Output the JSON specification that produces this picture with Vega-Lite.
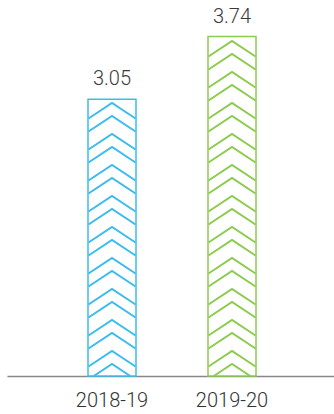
{
  "$schema": "https://vega.github.io/schema/vega-lite/v6.json",
  "autosize": "none",
  "width": 330,
  "height": 363,
  "padding": {"left": 7, "top": 13, "right": 0, "bottom": 38},
  "background": "white",
  "config": {"view": {"stroke": null}},
  "data": {"values": [
    {"year": "2018-19", "value": 3.05},
    {"year": "2019-20", "value": 3.74}
  ]},
  "encoding": {
    "x": {
      "field": "year", "type": "nominal", "sort": null,
      "scale": {"paddingInner": 0.6, "paddingOuter": 0.675},
      "axis": {"title": null, "ticks": false, "labelAngle": 0, "labelFontSize": 20, "labelFont": "Roboto", "labelFontWeight": 300, "labelColor": "#333333", "labelPadding": 14, "domainColor": "#888888", "domainWidth": 1.5}
    }
  },
  "layer": [
    {
      "mark": {"type": "bar", "fill": "white", "strokeWidth": 1.5},
      "encoding": {
        "y": {"field": "value", "type": "quantitative", "scale": {"domain": [0, 4]}, "axis": null},
        "stroke": {"field": "year", "type": "nominal", "scale": {"range": ["#3cbcee", "#8ccb4e"]}, "legend": null}
      }
    },
    {
      "mark": {"type": "point", "filled": false, "size": 4, "strokeWidth": 2, "opacity": 1},
      "encoding": {
        "y": {"datum": 0, "type": "quantitative"},
        "stroke": {"field": "year", "type": "nominal", "scale": {"range": ["#12a7e2", "#7fc241"]}, "legend": null},
        "shape": {"field": "year", "type": "nominal", "legend": null, "scale": {"range": [
          "M-18.2,0L0,-12L18.2,0M-23.5,-9.5L0,-25L23.5,-9.5M-23.5,-27.5L0,-43L23.5,-27.5M-23.5,-40.5L0,-56L23.5,-40.5M-23.5,-58.5L0,-74L23.5,-58.5M-23.5,-71.5L0,-87L23.5,-71.5M-23.5,-89.5L0,-105L23.5,-89.5M-23.5,-102.5L0,-118L23.5,-102.5M-23.5,-120.5L0,-136L23.5,-120.5M-23.5,-133.5L0,-149L23.5,-133.5M-23.5,-151.5L0,-167L23.5,-151.5M-23.5,-164.5L0,-180L23.5,-164.5M-23.5,-182.5L0,-198L23.5,-182.5M-23.5,-195.5L0,-211L23.5,-195.5M-23.5,-213.5L0,-229L23.5,-213.5M-23.5,-226.5L0,-242L23.5,-226.5M-23.5,-244.5L0,-260L23.5,-244.5M-23.5,-257.5L0,-273L23.5,-257.5",
          "M-18.2,0L0,-12L18.2,0M-23.5,-9.5L0,-25L23.5,-9.5M-23.5,-27.5L0,-43L23.5,-27.5M-23.5,-40.5L0,-56L23.5,-40.5M-23.5,-58.5L0,-74L23.5,-58.5M-23.5,-71.5L0,-87L23.5,-71.5M-23.5,-89.5L0,-105L23.5,-89.5M-23.5,-102.5L0,-118L23.5,-102.5M-23.5,-120.5L0,-136L23.5,-120.5M-23.5,-133.5L0,-149L23.5,-133.5M-23.5,-151.5L0,-167L23.5,-151.5M-23.5,-164.5L0,-180L23.5,-164.5M-23.5,-182.5L0,-198L23.5,-182.5M-23.5,-195.5L0,-211L23.5,-195.5M-23.5,-213.5L0,-229L23.5,-213.5M-23.5,-226.5L0,-242L23.5,-226.5M-23.5,-244.5L0,-260L23.5,-244.5M-23.5,-257.5L0,-273L23.5,-257.5M-23.5,-275.5L0,-291L23.5,-275.5M-23.5,-288.5L0,-304L23.5,-288.5M-23.5,-306.5L0,-322L23.5,-306.5M-23.5,-319.5L0,-335L23.5,-319.5"
        ]}}
      }
    },
    {
      "mark": {"type": "text", "dy": -20, "fontSize": 20, "font": "Roboto", "fontWeight": 300, "color": "#3a3a3a"},
      "encoding": {
        "y": {"field": "value", "type": "quantitative"},
        "text": {"field": "value", "type": "quantitative", "format": ".2f"}
      }
    }
  ]
}
